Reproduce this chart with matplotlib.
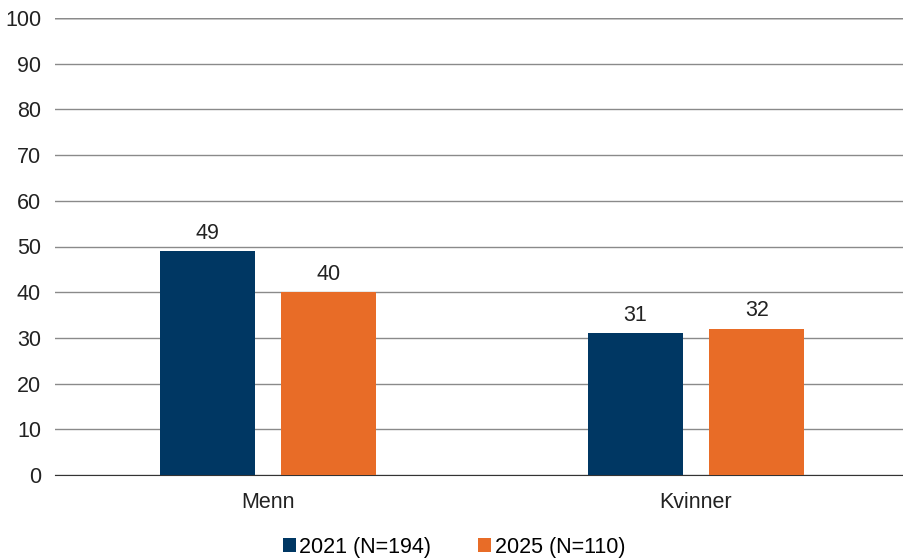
import matplotlib

matplotlib.use("Agg")
import matplotlib.pyplot as plt
import numpy as np

categories = ["Menn", "Kvinner"]
series_names = ["2021 (N=194)", "2025 (N=110)"]
values_2021 = [49, 31]
values_2025 = [40, 32]
colors = ["#003763", "#E86C27"]

plt.rcParams["font.family"] = ["Liberation Sans", "DejaVu Sans"]
fs = 15.5

fig = plt.figure(figsize=(9.04, 5.59), dpi=100)
ax = fig.add_axes([55 / 904, 84 / 559, 849 / 904, 457 / 559])

x = np.arange(len(categories))
width = 0.222
offset = 0.142
for vals, name, color, off in zip([values_2021, values_2025], series_names, colors, [-offset, offset]):
    bars = ax.bar(x + off, vals, width, color=color, label=name, zorder=3)
    for b, v in zip(bars, vals):
        ax.text(b.get_x() + b.get_width() / 2, v + 1.6, str(v), ha="center", va="bottom",
                fontsize=fs, color="#222222")

ax.set_xlim(-0.498, 1.486)
ax.set_ylim(0, 100)
ax.set_yticks(range(0, 101, 10))
ax.yaxis.grid(True, color="#8a8a8a", linewidth=1, zorder=0)
ax.tick_params(axis="y", length=0, pad=10, labelsize=fs, labelcolor="#222222")
ax.tick_params(axis="x", length=0, pad=12, labelsize=fs, labelcolor="#222222")
ax.set_xticks(x)
ax.set_xticklabels(categories)
for side in ["top", "right", "left"]:
    ax.spines[side].set_visible(False)
ax.spines["bottom"].set_color("#333333")
ax.axhline(100, color="#222222", linewidth=1, zorder=1)

ax.legend(loc="center", bbox_to_anchor=(0.47, -0.158), ncol=2, frameon=False,
          fontsize=fs, handlelength=0.6, handleheight=0.6, handletextpad=0.15, columnspacing=2.2,
          borderpad=0.2)

fig.savefig("out.png", dpi=100)
